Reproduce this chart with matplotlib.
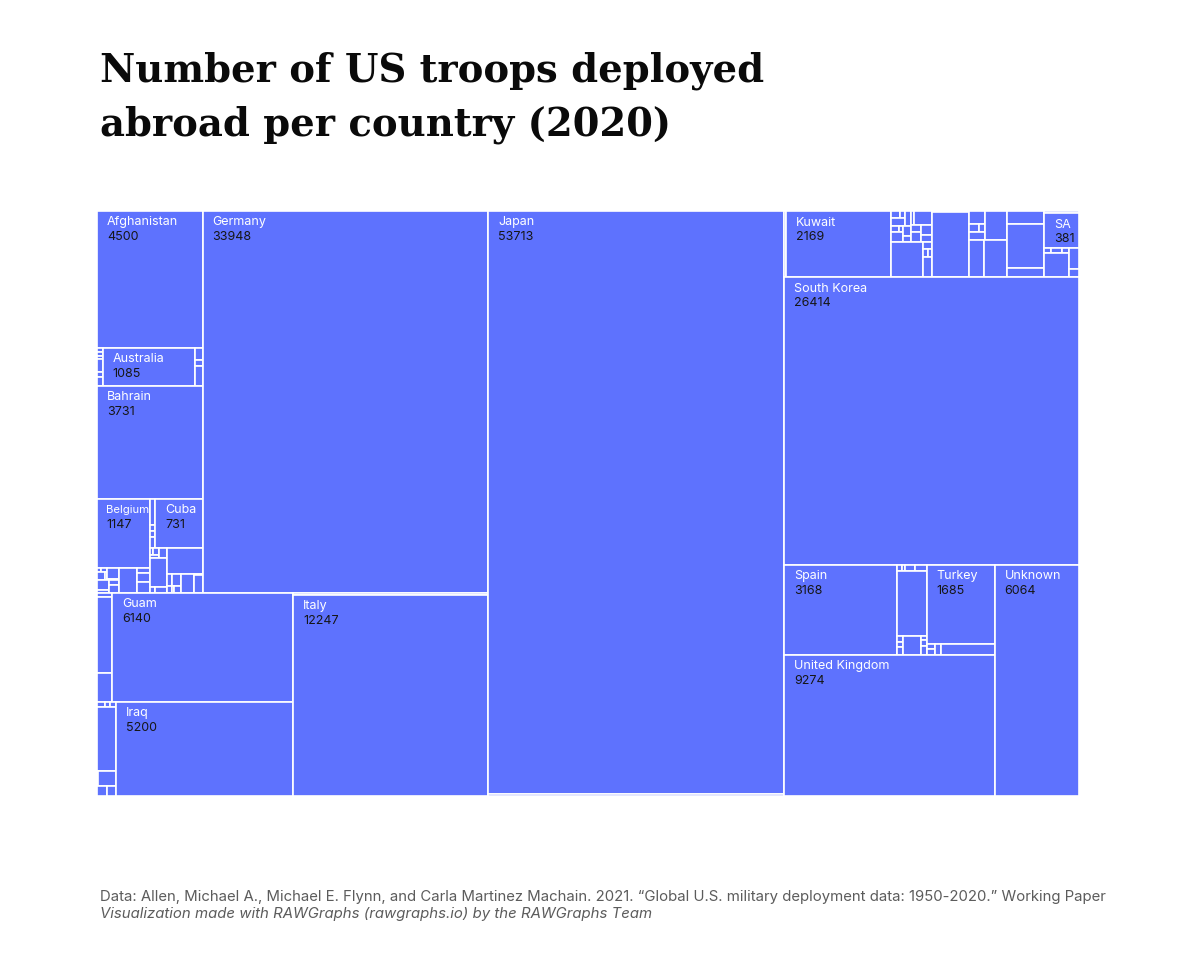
import matplotlib
matplotlib.use("Agg")
import matplotlib.pyplot as plt
from matplotlib.patches import Rectangle

# ---------------- data (alphabetical order, as in the source table) ----------------
countries = [
    "Afghanistan", "Albania", "Algeria", "Angola", "Argentina", "Armenia", "Aruba",
    "Australia", "Austria", "Azerbaijan", "Bahamas", "Bahrain", "Belgium",
    "Belize", "Bolivia", "Bosnia and Herzegovina", "Botswana", "Brazil", "Brunei",
    "Bulgaria", "Burkina Faso", "Cambodia", "Cameroon", "Canada", "Chad", "Chile", "China",
    "Colombia", "Costa Rica", "Cote d'Ivoire", "Croatia", "Cuba",
    "Curacao", "Cyprus", "Czech Republic", "Denmark", "Djibouti", "Dominican Republic",
    "Ecuador", "Egypt", "El Salvador", "Estonia", "Ethiopia", "Fiji", "Finland", "France",
    "Gabon", "Georgia", "Germany",
    "Ghana", "Greece", "Greenland", "Guam", "Guatemala", "Guinea", "Haiti", "Honduras",
    "Hong Kong", "Hungary", "Iceland", "India", "Iraq", "Israel", "Italy",
    "Japan", "Jordan", "Kenya", "Kuwait",
    "Kyrgyzstan", "Laos", "Latvia", "Lebanon", "Liberia", "Libya", "Lithuania",
    "Luxembourg", "Macedonia", "Madagascar", "Malaysia", "Maldives", "Mali", "Malta",
    "Mariana Islands", "Marshall Islands", "Mexico", "Micronesia", "Mongolia", "Morocco",
    "Nepal", "Netherlands", "New Zealand", "Nicaragua", "Niger", "Nigeria", "Norway",
    "Oman", "Pakistan", "Panama", "Peru", "Philippines", "Poland", "Romania", "SA",
    "Senegal", "Serbia", "Sierra Leone", "Singapore", "Slovakia", "South Africa",
    "South Korea", "Spain", "Sri Lanka", "Suriname", "Sweden", "Switzerland", "Syria",
    "Taiwan", "Tajikistan", "Tanzania", "Thailand", "Togo", "Trinidad and Tobago",
    "Tunisia", "Turkey", "Turkmenistan", "Uganda", "Ukraine", "United Arab Emirates",
    "United Kingdom", "Unknown",
]
troops = [
    4500, 8, 6, 6, 22, 8, 15,
    1085, 30, 15, 50, 3731, 1147,
    6, 8, 20, 6, 40, 6,
    35, 12, 15, 25, 140, 20, 35, 45,
    40, 10, 8, 18, 731,
    5, 12, 10, 25, 150, 8,
    20, 280, 20, 35, 10, 5, 15, 80,
    5, 45, 33948,
    20, 350, 135, 6140, 12, 8, 10, 380,
    6, 80, 30, 28, 5200, 100, 12247,
    53713, 190, 40, 2169,
    20, 10, 35, 30, 15, 8, 40,
    25, 15, 12, 80, 20, 30, 35,
    25, 350, 20, 12, 10, 60,
    6, 750, 8, 65, 26, 14, 38,
    200, 175, 260, 150, 520, 105, 25, 381,
    10, 15, 10, 190, 65, 25,
    26414, 3168, 8, 6, 18, 20, 600,
    12, 8, 15, 100, 8, 10,
    17, 1685, 12, 15, 19, 170,
    9274, 6064,
]

TITLE_LINES = ["Number of US troops deployed", "abroad per country (2020)"]
SOURCE = ("Data: Allen, Michael A., Michael E. Flynn, and Carla Martinez Machain. 2021. "
          "\u201cGlobal U.S. military deployment data: 1950-2020.\u201d Working Paper")
CREDIT = "Visualization made with RAWGraphs (rawgraphs.io) by the RAWGraphs Team"

FILL = "#5e72fe"
NAME_COLOR = "white"
VALUE_COLOR = "#161616"


# ---------------- d3.treemapBinary equivalent ----------------
def treemap_binary(values, x0, y0, x1, y1):
    n = len(values)
    sums = [0.0] * (n + 1)
    for i, v in enumerate(values):
        sums[i + 1] = sums[i] + v
    rects = [None] * n

    def partition(i, j, value, x0, y0, x1, y1):
        if i >= j - 1:
            rects[i] = (x0, y0, x1, y1)
            return
        offset = sums[i]
        target = value / 2 + offset
        k, hi = i + 1, j - 1
        while k < hi:
            mid = (k + hi) >> 1
            if sums[mid] < target:
                k = mid + 1
            else:
                hi = mid
        if (target - sums[k - 1]) < (sums[k] - target) and i + 1 < k:
            k -= 1
        vl = sums[k] - offset
        vr = value - vl
        if (x1 - x0) > (y1 - y0):
            xk = (x0 * vr + x1 * vl) / value
            partition(i, k, vl, x0, y0, xk, y1)
            partition(k, j, vr, xk, y0, x1, y1)
        else:
            yk = (y0 * vr + y1 * vl) / value
            partition(i, k, vl, x0, y0, x1, yk)
            partition(k, j, vr, x0, yk, x1, y1)

    partition(0, n, sums[n], x0, y0, x1, y1)
    return rects


# ---------------- figure ----------------
FW, FH, DPI = 1200, 960, 100
fig = plt.figure(figsize=(FW / DPI, FH / DPI), dpi=DPI)
fig.patch.set_facecolor("white")

# chart area in pixels
CX, CY, CW, CH = 97, 211, 982, 585
ax = fig.add_axes([CX / FW, 1 - (CY + CH) / FH, CW / FW, CH / FH])
ax.set_xlim(0, CW)
ax.set_ylim(CH, 0)
ax.axis("off")

rects = treemap_binary(troops, 0, 0, CW, CH)
for (x0, y0, x1, y1) in rects:
    ax.add_patch(Rectangle((x0, y0), x1 - x0, y1 - y0, facecolor=FILL,
                           edgecolor="white", linewidth=1.2))

renderer = fig.canvas.get_renderer()
PX = 0.72  # px -> pt at 100 dpi
LABEL_PX = 12.5
PAD = 10


def text_w(t):
    return t.get_window_extent(renderer=renderer).width


for name, val, (x0, y0, x1, y1) in zip(countries, troops, rects):
    w, h = x1 - x0, y1 - y0
    if h < 32 or w < 20:
        continue
    nt = ax.text(x0 + PAD, y0 + 14.5, name, fontsize=LABEL_PX * PX, color=NAME_COLOR,
                 family="Inter", va="baseline", ha="left")
    vt = ax.text(x0 + PAD, y0 + 29, str(val), fontsize=LABEL_PX * PX, color=VALUE_COLOR,
                 family="Inter", va="baseline", ha="left")
    nw = text_w(nt)
    s = min(1.0, w / (PAD + nw + 1))
    if s < 0.6:
        nt.remove(); vt.remove()
        continue
    nt.set_fontsize(LABEL_PX * PX * s)
    nt.set_x(x0 + PAD * s)
    vt.set_x(x0 + PAD * s)
    if PAD * s + text_w(vt) > w:
        nt.remove(); vt.remove()

# ---------------- title & footer ----------------
TITLE_PX = 38.5
fig.text(100 / FW, 1 - 81 / FH, TITLE_LINES[0], family="DejaVu Serif", weight="bold",
         fontsize=TITLE_PX * PX, color="#0a0a0a", va="baseline", ha="left")
fig.text(100 / FW, 1 - 136 / FH, TITLE_LINES[1], family="DejaVu Serif", weight="bold",
         fontsize=TITLE_PX * PX, color="#0a0a0a", va="baseline", ha="left")

FOOT_PX = 14.95
fig.text(100 / FW, 1 - 901 / FH, SOURCE, family="Inter", fontsize=FOOT_PX * PX,
         color="#5c5c5c", va="baseline", ha="left")
fig.text(100 / FW, 1 - 918 / FH, CREDIT, family="Inter", style="italic",
         fontsize=FOOT_PX * PX, color="#5c5c5c", va="baseline", ha="left")

fig.savefig("out.png", dpi=DPI, facecolor="white")
